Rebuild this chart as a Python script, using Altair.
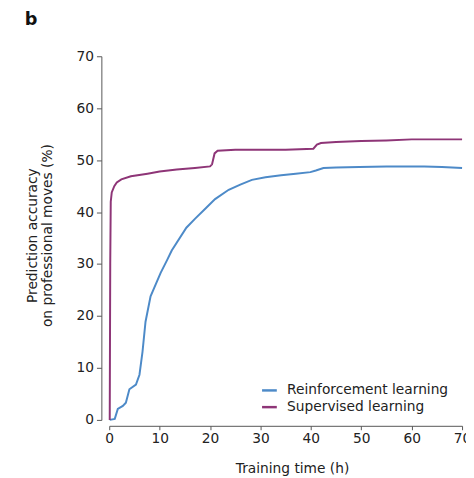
import altair as alt
import pandas as pd

# Supervised learning (purple)
sl_t = [0.1, 0.2, 0.3, 0.5, 1.0, 1.5, 2.4, 4.3, 7.6, 10.0, 13.4, 17.0, 20.0, 20.4, 20.9, 21.5, 25.0, 30.0, 35.0,
        40.5, 41.2, 42.0, 45.0, 50.0, 55.0, 60.0, 65.0, 70.0]
sl_v = [0.0, 30.0, 42.0, 43.8, 45.0, 45.7, 46.3, 46.9, 47.4, 47.8, 48.2, 48.5, 48.8, 49.2, 51.3, 51.8, 52.0, 52.0, 52.0,
        52.2, 53.0, 53.3, 53.5, 53.7, 53.8, 54.0, 54.0, 54.0]

# Reinforcement learning (blue)
rl_t = [0.1, 1.1, 1.7, 2.7, 3.3, 4.0, 5.3, 6.0, 6.6, 7.2, 8.2, 10.2, 11.5, 12.4, 15.3, 17.0, 19.2, 21.0, 23.7,
        26.0, 28.3, 31.0, 34.1, 37.0, 39.9, 41.0, 42.5, 45.0, 49.6, 55.0, 62.5, 66.0, 70.0]
rl_v = [0.0, 0.2, 2.1, 2.7, 3.3, 5.9, 6.8, 8.7, 13.1, 18.9, 23.8, 28.3, 30.8, 32.6, 37.0, 38.7, 40.8, 42.5, 44.3,
        45.3, 46.2, 46.7, 47.1, 47.4, 47.7, 48.0, 48.5, 48.6, 48.7, 48.8, 48.8, 48.7, 48.5]

series = ["Reinforcement learning", "Supervised learning"]
colors = ["#4D8AC8", "#8E3577"]
ticks = [0, 10, 20, 30, 40, 50, 60, 70]

df = pd.concat([
    pd.DataFrame({"t": rl_t, "v": rl_v, "s": series[0], "o": range(len(rl_t))}),
    pd.DataFrame({"t": sl_t, "v": sl_v, "s": series[1], "o": range(len(sl_t))}),
])

FONT = "DejaVu Sans"
TXT = "#222222"

chart = alt.Chart(df).mark_line(strokeWidth=2).encode(
    x=alt.X("t:Q", scale=alt.Scale(domain=[0, 70], nice=False),
            axis=alt.Axis(values=ticks, title="Training time (h)", grid=False, offset=6,
                          tickSize=4, labelPadding=2, domainColor="#555", tickColor="#555",
                          labelFontSize=14, titleFontSize=14, titleFontWeight="normal",
                          labelColor=TXT, titleColor=TXT, titleX=186, titleY=48,
                          titleBaseline="alphabetic", labelFlush=False)),
    y=alt.Y("v:Q", scale=alt.Scale(domain=[0, 70], nice=False),
            axis=alt.Axis(values=ticks, title=["Prediction accuracy", "on professional moves (%)"],
                          grid=False, offset=8, tickSize=5, labelPadding=3,
                          domainColor="#555", tickColor="#555",
                          labelFontSize=14, titleFontSize=14, titleFontWeight="normal",
                          labelColor=TXT, titleColor=TXT, titleAngle=270, titleX=-77, titleY=182,
                          titleAlign="center", titleBaseline="top", titleLineHeight=15)),
    color=alt.Color("s:N", scale=alt.Scale(domain=series, range=colors),
                    legend=alt.Legend(title=None, orient="none", legendX=154, legendY=331,
                                      symbolType="stroke", symbolSize=225, symbolStrokeWidth=2.5,
                                      labelFontSize=14, labelColor=TXT, labelOffset=9, rowPadding=1,
                                      labelLimit=400)),
    order="o:Q",
).properties(
    width=359, height=370,
    padding={"left": 103, "top": 45, "right": 4, "bottom": 55},
    autosize=alt.AutoSizeParams(type="none"),
    title=alt.Title("b", anchor="start", frame="group", dx=-86, dy=-17, fontSize=18,
                    fontWeight="bold", color="#111"),
).configure(font=FONT).configure_view(stroke=None)

chart.save("out.html", embed_options={"renderer": "svg", "actions": False})
